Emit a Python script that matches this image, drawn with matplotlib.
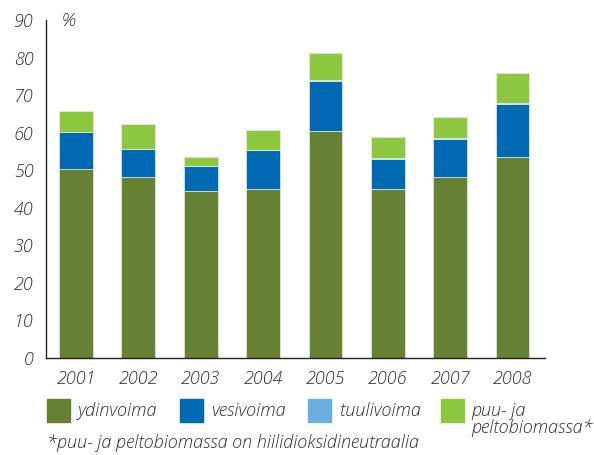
import matplotlib
matplotlib.use("Agg")
import matplotlib.pyplot as plt
import numpy as np

years = ["2001", "2002", "2003", "2004", "2005", "2006", "2007", "2008"]
ydinvoima = [50.2, 48.1, 44.5, 45.0, 60.4, 45.0, 48.1, 53.4]
vesivoima = [10.0, 7.5, 6.5, 10.3, 13.4, 8.0, 10.3, 14.2]
tuulivoima = [0.1, 0.1, 0.1, 0.1, 0.2, 0.2, 0.2, 0.4]
biomassa = [5.4, 6.6, 2.3, 5.2, 7.1, 5.7, 5.6, 8.0]
series_labels = ["ydinvoima", "vesivoima", "tuulivoima", "puu- ja\npeltobiomassa*"]
yticks = [0, 10, 20, 30, 40, 50, 60, 70, 80, 90]
footnote = "*puu- ja peltobiomassa on hiilidioksidineutraalia"

colors = ["#668133", "#0069B4", "#6AAEE0", "#8DC63F"]
txt = "#2c2c2c"
plt.rcParams['font.family'] = ['Open Sans', 'DejaVu Sans']
FW = 'light'
FS = 13

fig = plt.figure(figsize=(5.94, 4.55), dpi=100)
ax = fig.add_axes([46/594, 97/455, 499/594, 338/455])

x = np.arange(len(years))
bottom = np.zeros(len(years))
for vals, c in zip([ydinvoima, vesivoima, tuulivoima, biomassa], colors):
    ax.bar(x, vals, width=0.54, bottom=bottom, color=c, edgecolor="#e8f0e0", linewidth=0.5)
    bottom += np.array(vals)

ax.set_xlim(-0.48, 7.52)
ax.set_ylim(0, 90)
ax.set_yticks(yticks)
ax.set_yticklabels([str(t) for t in yticks], fontsize=FS, style='italic', color=txt, fontweight=FW)
ax.set_xticks(x)
ax.set_xticklabels(years, fontsize=FS, style='italic', color=txt, fontweight=FW)
ax.tick_params(axis='y', length=0, pad=9)
ax.tick_params(axis='x', length=0, pad=9)
for s in ["top", "right"]:
    ax.spines[s].set_visible(False)
for s in ["left", "bottom"]:
    ax.spines[s].set_color("#222222")
    ax.spines[s].set_linewidth(1.0)

fig.text(62/594, 1 - 21/455, "%", fontsize=FS, style='italic', color=txt, va='center', ha='left', fontweight=FW)

sq_x = [47, 180, 308, 441]
txt_x = [78, 211, 340, 471]
W, H = 594, 455
for i, (c, lab) in enumerate(zip(colors, series_labels)):
    fig.patches.append(plt.Rectangle((sq_x[i]/W, 1 - 422/H), 23/W, 23/H,
                                     transform=fig.transFigure, color=c, figure=fig))
    if "\n" in lab:
        fig.text(txt_x[i]/W, 1 - 402/H, lab, fontsize=FS, style='italic', color=txt,
                 va='top', ha='left', linespacing=0.93, fontweight=FW)
    else:
        fig.text(txt_x[i]/W, 1 - 411.5/H, lab, fontsize=FS, style='italic', color=txt,
                 va='center', ha='left', fontweight=FW)

fig.text(47/W, 1 - 443/H, footnote, fontsize=FS, style='italic', color=txt, va='center', ha='left', fontweight=FW)

fig.savefig("out.png", dpi=100)
